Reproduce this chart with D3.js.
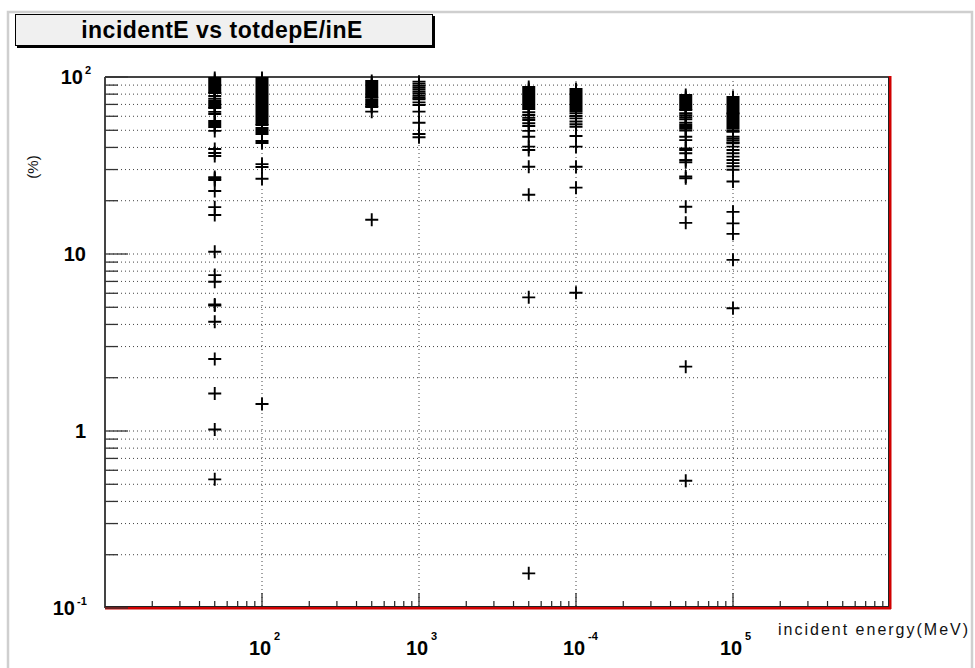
<!DOCTYPE html>
<html>
<head>
<meta charset="utf-8">
<script src="https://cdn.jsdelivr.net/npm/d3@7"></script>
<style>
  body { margin: 0; background: #fff; }
  svg { display: block; }
</style>
</head>
<body>
<script>
// Incident beam energies (MeV) and deposited-energy ratios (%) per energy
const energies = [50, 100, 500, 1000, 5000, 10000, 50000, 100000];
const ratio50 = [98.7, 96.2, 93.7, 91.3, 88.9, 86.7, 84.4, 82.3, 81.2, 78.1, 75.4, 73.2, 71.3, 69.5, 67.7, 66.8,
  63.5, 61.8, 56.4, 55.0, 53.6, 52.2, 49.6, 39.2, 37.2, 35.8, 27.2, 26.7, 26.2, 22.7, 18.4, 16.6, 10.3, 7.6, 6.97,
  5.18, 5.12, 4.14, 2.55, 1.63, 1.02, 0.533];
const ratio100 = [98.7, 96.2, 93.7, 91.3, 88.9, 86.7, 84.4, 82.3, 80.2, 78.1, 76.1, 74.1, 72.2, 70.4, 68.6, 66.8,
  65.1, 63.4, 61.8, 60.2, 58.7, 57.2, 55.7, 54.3, 53.6, 51.5, 50.2, 48.9, 47.6, 43.5, 42.4, 32.2, 31.0, 26.6, 1.42];
const ratio500 = [94.9, 92.5, 90.1, 87.8, 85.5, 83.3, 81.2, 79.1, 77.1, 76.4, 74.2, 72.3, 70.4, 68.6, 67.7, 63.7, 15.6];
const ratio1000 = [94.1, 91.7, 89.3, 87.0, 84.8, 82.6, 80.5, 78.4, 76.4, 74.8, 71.9, 69.5, 63.7, 55.1, 47.6, 45.7];
const ratio5000 = [87.8, 85.5, 83.3, 81.2, 79.1, 77.1, 75.1, 73.2, 71.3, 69.5, 67.7, 65.9, 63.2, 61.0, 58.9, 57.2,
  54.8, 52.9, 49.6, 46.0, 40.4, 38.7, 31.1, 21.6, 5.69, 0.157];
const ratio10000 = [85.5, 83.3, 81.2, 79.1, 77.1, 75.1, 73.2, 71.3, 69.5, 67.7, 66.0, 64.3, 62.4, 60.2, 58.4, 56.0,
  54.1, 52.4, 46.4, 40.4, 31.1, 23.7, 6.04];
const ratio50000 = [79.1, 77.1, 75.1, 73.2, 71.3, 69.5, 67.7, 66.0, 65.1, 62.4, 60.8, 59.2, 57.7, 55.2, 53.6, 52.2,
  50.9, 49.8, 46.0, 44.0, 39.5, 38.7, 37.1, 34.0, 33.0, 27.4, 26.8, 18.5, 15.0, 2.31, 0.524];
const ratio100000 = [77.1, 75.1, 73.2, 71.3, 69.5, 67.7, 66.0, 64.3, 62.6, 62.3, 61.0, 59.4, 57.9, 56.4, 55.0, 53.6,
  52.2, 50.9, 49.6, 49.1, 46.0, 44.8, 43.7, 42.6, 42.2, 40.4, 38.7, 37.1, 35.5, 34.0, 32.6, 31.3, 29.9, 25.7, 17.3,
  14.9, 13.0, 9.27, 4.94];
const ratiosByEnergy = [ratio50, ratio100, ratio500, ratio1000, ratio5000, ratio10000, ratio50000, ratio100000];

// Axis labels
const xLabelValues = [100, 1000, 10000, 100000];
const xLabelBase = ["10", "10", "10", "10"];
const xLabelExp = ["2", "3", "-4", "5"];
const yLabelValues = [100, 10, 1, 0.1];
const yLabelBase = ["10", "10", "1", "10"];
const yLabelExp = ["2", "", "", "-1"];
const titleText = "incidentE vs totdepE/inE";
const xTitleText = "incident energy(MeV)";
const yTitleText = "(%)";

const W = 975, H = 668;
const svg = d3.select("body").append("svg").attr("width", W).attr("height", H);

const x = d3.scaleLog().domain([10, 1e6]).range([105, 890]);
const y = d3.scaleLog().domain([0.1, 100]).range([608, 77]);
const isDecade = v => Math.abs(Math.log10(v) - Math.round(Math.log10(v))) < 1e-9;

// Canvas border
svg.append("rect").attr("x", 8).attr("y", 12).attr("width", 964).attr("height", 700)
  .attr("fill", "none").attr("stroke", "#cfcfcf").attr("stroke-width", 2.5);

// Title box with drop shadow
svg.append("rect").attr("x", 17).attr("y", 16).attr("width", 418).attr("height", 32).attr("fill", "#000");
svg.append("rect").attr("x", 15.5).attr("y", 14.5).attr("width", 417).attr("height", 31)
  .attr("fill", "#f0f0f0").attr("stroke", "#000").attr("stroke-width", 1);
svg.append("text").attr("x", 222).attr("y", 38).attr("text-anchor", "middle")
  .attr("font-family", "Liberation Sans, Arial, sans-serif").attr("font-weight", "bold")
  .attr("font-size", 23).attr("letter-spacing", 0.5).attr("fill", "#000").text(titleText);

// Grid
const yAll = y.ticks().filter(v => v > 0.1 && v < 100);
svg.append("g").selectAll("line").data(yAll).join("line")
  .attr("x1", 105).attr("x2", 890).attr("y1", d => y(d)).attr("y2", d => y(d))
  .attr("stroke", "#444").attr("stroke-width", 1).attr("stroke-dasharray", "1,3");
svg.append("g").selectAll("line").data(xLabelValues).join("line")
  .attr("y1", 77).attr("y2", 608).attr("x1", d => x(d)).attr("x2", d => x(d))
  .attr("stroke", "#444").attr("stroke-width", 1).attr("stroke-dasharray", "1,3");

// Frame
svg.append("line").attr("x1", 105).attr("x2", 890).attr("y1", 77).attr("y2", 77)
  .attr("stroke", "#444").attr("stroke-width", 2);
svg.append("line").attr("x1", 105).attr("x2", 105).attr("y1", 77).attr("y2", 608)
  .attr("stroke", "#444").attr("stroke-width", 2);
svg.append("line").attr("x1", 105).attr("x2", 891).attr("y1", 608).attr("y2", 608)
  .attr("stroke", "#d00000").attr("stroke-width", 3);
svg.append("line").attr("x1", 105).attr("x2", 890).attr("y1", 606.5).attr("y2", 606.5)
  .attr("stroke", "#222").attr("stroke-width", 1);
svg.append("line").attr("x1", 890).attr("x2", 890).attr("y1", 76).attr("y2", 609)
  .attr("stroke", "#d00000").attr("stroke-width", 3);
svg.append("line").attr("x1", 888.5).attr("x2", 888.5).attr("y1", 77).attr("y2", 607)
  .attr("stroke", "#222").attr("stroke-width", 1);

// Ticks
svg.append("g").selectAll("line").data(y.ticks()).join("line")
  .attr("x1", 105).attr("x2", d => 105 + (isDecade(d) ? 23 : 13))
  .attr("y1", d => y(d)).attr("y2", d => y(d))
  .attr("stroke", "#333").attr("stroke-width", 1.3);
svg.append("g").selectAll("line").data(x.ticks().filter(v => v > 10 && v < 1e6)).join("line")
  .attr("y1", 607).attr("y2", d => 607 - (isDecade(d) ? 14 : 6))
  .attr("x1", d => x(d)).attr("x2", d => x(d))
  .attr("stroke", "#222").attr("stroke-width", 1.2);

// Data markers (plus signs)
const points = [];
energies.forEach((e, i) => ratiosByEnergy[i].forEach(r => points.push({ e, r })));
svg.append("g").selectAll("path").data(points).join("path")
  .attr("transform", d => `translate(${x(d.e)},${y(d.r)})`)
  .attr("d", "M-6.5,0H6.5M0,-6.5V6.5")
  .attr("stroke", "#000").attr("stroke-width", 1.9).attr("fill", "none");

// Tick labels
const font = "Liberation Sans, Arial, sans-serif";
const yl = svg.append("g").attr("font-family", font).attr("font-weight", "bold").attr("fill", "#000");
yLabelValues.forEach((v, i) => {
  const hasExp = yLabelExp[i] !== "";
  const endX = hasExp ? (yLabelExp[i].length > 1 ? 75 : 83) : 86;
  yl.append("text").attr("x", endX).attr("y", y(v) + 7).attr("text-anchor", "end")
    .attr("font-size", 20).text(yLabelBase[i]);
  if (hasExp) {
    yl.append("text").attr("x", endX + 2).attr("y", y(v) - 3).attr("font-size", 11).text(yLabelExp[i]);
  }
});
const xl = svg.append("g").attr("font-family", font).attr("font-weight", "bold").attr("fill", "#000");
xLabelValues.forEach((v, i) => {
  const cx = x(v) - 2;
  xl.append("text").attr("x", cx).attr("y", 655).attr("text-anchor", "middle")
    .attr("font-size", 20).text(xLabelBase[i]);
  xl.append("text").attr("x", cx + 14).attr("y", 640).attr("font-size", 11).text(xLabelExp[i]);
});

// Axis titles
svg.append("text").attr("x", 778).attr("y", 635)
  .attr("font-family", font).attr("font-size", 16).attr("letter-spacing", 2)
  .attr("fill", "#111").text(xTitleText);
svg.append("text").attr("transform", "translate(38,167) rotate(-90)").attr("text-anchor", "middle")
  .attr("font-family", font).attr("font-size", 15).attr("fill", "#111").text(yTitleText);
</script>
</body>
</html>
